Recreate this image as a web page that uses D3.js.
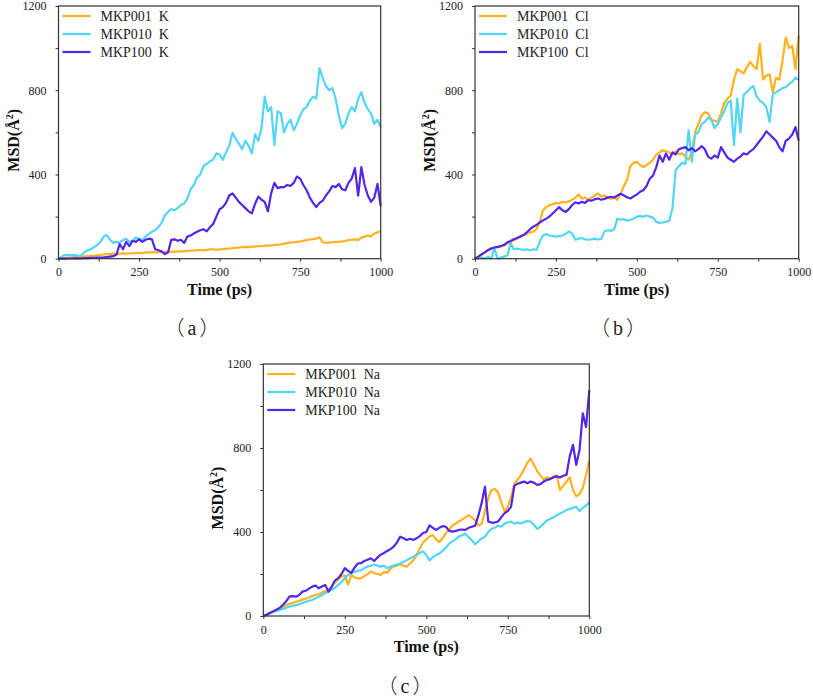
<!DOCTYPE html>
<html><head><meta charset="utf-8">
<script src="https://cdn.jsdelivr.net/npm/d3@7/dist/d3.min.js"></script>
<style>body{margin:0;background:#fff}svg{display:block}</style>
</head><body>
<svg id="chart" width="813" height="698"></svg>
<script>
// time axis (ps), one sample every 10 ps
const timePs = d3.range(0, 1001, 10);
const xTicks = [0, 125, 250, 375, 500, 625, 750, 875, 1000];
const xTickLabels = [0, 250, 500, 750, 1000];
const yTicks = [0, 200, 400, 600, 800, 1000, 1200];
const yTickLabels = [0, 400, 800, 1200];
const seriesNames = ["MKP001", "MKP010", "MKP100"];
const panelIons = ["K", "Cl", "Na"];
const panelLetters = ["a", "b", "c"];

// ---- panel (a): K ----
const k001 = [0,2,4,5,6,8,9,10,11,12,13,14,16,18,20,22,22,25,22,24,25,24,26,25,28,27,28,30,29,31,30,30,32,31,33,32,35,34,36,35,37,38,38,40,41,40,42,44,45,42,44,46,47,48,50,52,53,55,56,55,57,58,60,59,62,62,63,65,67,68,72,74,76,78,80,82,85,88,92,93,95,102,78,75,76,78,80,80,82,84,88,90,92,88,100,105,110,105,120,125,130];
const k010 = [0,10,17,18,16,18,14,15,30,40,45,55,65,80,105,112,90,75,80,78,88,95,80,85,100,95,88,105,118,128,135,150,170,205,222,235,230,240,255,262,285,330,350,385,400,440,450,462,470,500,495,470,505,535,598,570,545,520,560,535,500,590,560,620,770,700,720,540,700,690,600,640,660,610,640,680,710,720,750,770,760,905,860,820,800,810,760,680,620,640,690,720,700,760,790,740,710,690,640,660,625];
const k100 = [0,0,0,1,1,2,2,2,3,3,4,4,5,5,6,8,10,12,20,70,45,80,60,85,80,92,80,90,95,92,45,40,35,22,30,90,92,85,90,75,105,110,120,128,135,140,130,150,165,200,235,245,265,300,310,290,270,255,240,225,215,260,295,280,270,225,310,360,335,340,340,350,345,360,390,380,350,325,290,265,245,265,275,300,320,345,340,355,330,325,360,380,430,300,435,350,300,270,290,355,250];

// ---- panel (b): Cl ----
const cl001 = [0,8,20,30,42,50,52,55,58,62,72,78,88,95,105,112,118,125,128,140,175,230,245,255,258,265,262,270,268,272,280,290,305,285,290,278,290,300,310,295,300,290,285,290,280,310,345,375,440,455,460,445,435,445,455,470,495,505,515,510,505,495,510,495,500,485,470,510,600,640,680,695,690,660,655,650,690,740,760,775,850,900,890,880,910,935,915,900,1020,850,870,875,790,860,850,940,1050,1000,1010,900,1060];
const cl010 = [0,0,5,0,10,0,50,0,5,10,15,75,45,48,45,42,44,40,45,42,80,110,118,110,108,105,107,110,118,130,120,90,95,98,92,90,92,95,92,94,130,135,132,140,190,185,188,180,185,190,200,202,200,205,200,195,175,170,172,175,180,240,420,440,455,450,610,460,590,600,640,650,670,660,620,640,670,700,740,750,540,760,600,780,790,810,820,770,750,740,720,650,780,790,800,810,815,830,840,860,850];
const cl100 = [0,10,20,30,40,48,53,56,60,66,78,84,92,98,105,112,125,140,152,160,172,182,190,200,215,230,245,230,222,235,255,268,262,270,265,278,275,282,286,280,284,290,294,290,300,308,300,292,286,296,305,318,325,345,380,395,435,490,460,500,470,505,495,520,525,530,515,525,510,520,535,520,485,475,490,480,530,505,480,470,460,475,485,500,495,510,520,540,560,580,605,590,575,560,530,510,560,570,590,625,560];

// ---- panel (c): Na ----
const na001 = [0,8,15,22,30,38,45,52,58,62,68,72,78,82,88,95,100,105,112,118,125,140,160,175,188,192,150,195,185,178,180,190,200,212,205,200,195,210,205,225,235,240,245,240,235,250,265,290,320,350,365,380,385,365,352,370,395,410,432,440,450,460,470,480,470,455,430,440,500,560,600,605,590,540,500,520,565,630,650,670,700,730,750,720,690,670,650,660,655,665,670,600,620,640,660,600,570,580,610,670,740];
const na010 = [0,5,12,18,24,29,34,40,45,48,52,56,62,68,72,76,84,92,100,108,116,125,135,148,162,180,195,205,210,215,218,228,235,240,245,240,235,240,228,235,240,245,250,258,265,275,282,290,300,308,290,265,280,290,298,310,325,345,355,365,378,385,392,375,360,342,355,370,378,400,415,420,430,425,440,445,450,440,445,440,448,452,450,435,415,425,440,455,462,470,480,488,495,505,510,515,520,500,515,525,542];
const na100 = [0,6,14,22,30,38,52,70,92,95,92,100,116,120,130,140,145,132,140,148,116,140,170,180,200,228,215,205,230,250,252,262,268,275,262,278,292,300,310,318,330,350,378,370,362,368,362,370,380,395,400,432,420,410,420,428,425,405,402,405,410,412,410,420,425,430,480,540,616,450,445,445,450,470,490,500,520,620,630,635,640,632,640,635,624,628,640,648,652,660,665,660,668,672,760,815,720,790,965,900,1076];

const seriesColors = ["#FFB21F", "#52D6F5", "#5426EC"];

const panels = [
  {left: 58.5, right: 380.7, top: 6, bottom: 258.7, data: [k001, k010, k100], labelX: 192, labelY: 328},
  {left: 475, right: 798.7, top: 6, bottom: 258.7, data: [cl001, cl010, cl100], labelX: 618, labelY: 328},
  {left: 263.3, right: 589.3, top: 364, bottom: 616, data: [na001, na010, na100], labelX: 405, labelY: 686}
];

const svg = d3.select("#chart");
const serif = "'Liberation Serif','Times New Roman',serif";

panels.forEach((p, pi) => {
  const x = d3.scaleLinear().domain([0, 1000]).range([p.left, p.right]);
  const y = d3.scaleLinear().domain([0, 1200]).range([p.bottom, p.top]);
  const g = svg.append("g");

  // lines
  const line = d3.line().x((d, i) => x(timePs[i])).y(d => y(d));
  p.data.forEach((vals, si) => {
    g.append("path").datum(vals).attr("d", line)
      .attr("fill", "none").attr("stroke", seriesColors[si])
      .attr("stroke-width", 2.2).attr("stroke-linejoin", "round");
  });

  // axes
  const xAxis = d3.axisBottom(x).tickValues(xTicks).tickSize(3)
    .tickFormat(d => xTickLabels.includes(d) ? d : "");
  const yAxis = d3.axisLeft(y).tickValues(yTicks).tickSize(3)
    .tickFormat(d => yTickLabels.includes(d) ? d : "");
  const gx = g.append("g").attr("transform", `translate(0,${p.bottom})`).call(xAxis);
  const gy = g.append("g").attr("transform", `translate(${p.left},0)`).call(yAxis);
  [gx, gy].forEach(a => {
    a.attr("font-family", serif).attr("font-size", 12);
    a.select(".domain").remove();
    a.selectAll(".tick line").attr("stroke", "#333");
    a.selectAll(".tick text").attr("fill", "#222");
  });
  gx.selectAll(".tick text").attr("y", 9).attr("dy", "0.71em");
  gy.selectAll(".tick text").attr("x", -12);

  // frame
  g.append("rect").attr("x", p.left).attr("y", p.top)
    .attr("width", p.right - p.left).attr("height", p.bottom - p.top)
    .attr("fill", "none").attr("stroke", "#333").attr("stroke-width", 1.2);

  // axis titles
  g.append("text").attr("x", (p.left + p.right) / 2).attr("y", p.bottom + 36)
    .attr("text-anchor", "middle").attr("font-family", serif).attr("font-weight", "bold")
    .attr("font-size", 16).attr("fill", "#111").text("Time (ps)");
  const ty = g.append("text")
    .attr("transform", `translate(${p.left - 40},${(p.top + p.bottom) / 2 + 8}) rotate(-90)`)
    .attr("text-anchor", "middle").attr("font-family", serif).attr("font-weight", "bold")
    .attr("font-size", 16).attr("fill", "#111");
  ty.append("tspan").text("MSD(Å");
  ty.append("tspan").attr("font-size", 10).attr("dy", -6).text("2");
  ty.append("tspan").attr("dy", 6).text(")");

  // legend
  seriesNames.forEach((nm, si) => {
    const ly = p.top + 10 + si * 18;
    g.append("line").attr("x1", p.left + 4).attr("x2", p.left + 32)
      .attr("y1", ly).attr("y2", ly).attr("stroke", seriesColors[si]).attr("stroke-width", 2.2);
    g.append("text").attr("x", p.left + 42).attr("y", ly + 5)
      .attr("font-family", serif).attr("font-size", 14).attr("fill", "#222")
      .attr("xml:space", "preserve").style("white-space", "pre")
      .text(nm + "  " + panelIons[pi]);
  });

  // sub-label
  const sl = g.append("text").attr("x", p.labelX).attr("y", p.labelY + 7)
    .attr("text-anchor", "middle").attr("font-size", 20).attr("fill", "#222");
  sl.append("tspan").attr("font-family", "'Noto Sans CJK SC'").attr("font-weight", 300).text("（");
  sl.append("tspan").attr("font-family", serif).attr("dx", 3).text(panelLetters[pi]);
  sl.append("tspan").attr("font-family", "'Noto Sans CJK SC'").attr("font-weight", 300).attr("dx", 3).text("）");
});
</script>
</body></html>
